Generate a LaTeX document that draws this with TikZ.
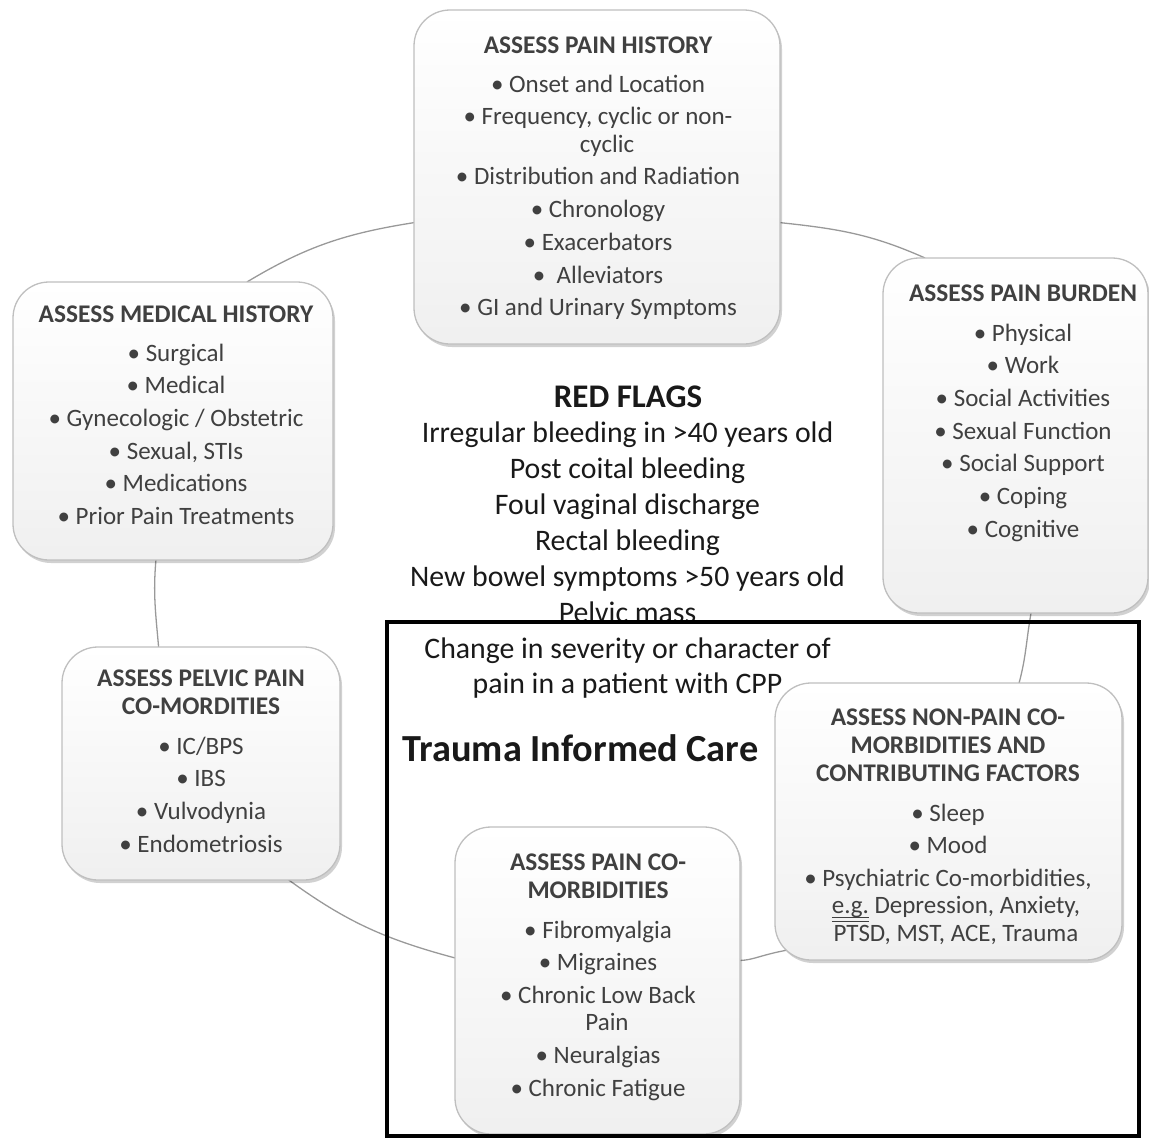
\documentclass[tikz,border=0pt]{standalone}
\usepackage{fontspec}
\setmainfont{Carlito}
\usetikzlibrary{shadows}
\pgfdeclarelayer{background}
\pgfsetlayers{background,main}

% double underline drawn with two thin rules
\newcommand\dblul[1]{\setbox0\hbox{#1}%
  \rlap{\rule[-4pt]{\wd0}{0.9pt}}\rlap{\rule[-7.5pt]{\wd0}{0.9pt}}\box0}

\begin{document}
\begin{tikzpicture}[x=1pt,y=-1pt,
  cbox/.style={draw=black!25, line width=1.3pt, rounded corners=36pt,
    top color=white, bottom color=black!6, inner sep=0pt, outer sep=0pt,
    anchor=north west,
    drop shadow={shadow xshift=2pt, shadow yshift=-3pt, opacity=0.18, fill=black}},
  btitle/.style={font=\bfseries\fontsize{25.4}{28}\selectfont, text=black!75,
    align=center, inner sep=0pt, anchor=north},
  bitems/.style={font=\fontsize{25}{27.5}\selectfont, text=black!75,
    align=center, inner sep=0pt, anchor=north},
  link/.style={draw=black!40, line width=1.3pt},
  rftitle/.style={font=\bfseries\fontsize{33}{36}\selectfont, text=black!90,
    inner sep=0pt, anchor=base},
  rflist/.style={font=\fontsize{29.8}{35.86}\selectfont, text=black!90,
    align=center, inner sep=0pt, anchor=north},
  bigtitle/.style={font=\bfseries\fontsize{38.3}{40}\selectfont, text=black!90,
    inner sep=0pt, anchor=base},
  frame/.style={draw=black, line width=4pt, inner sep=0pt, outer sep=0pt,
    anchor=north west}
]
\useasboundingbox (0,0) rectangle (1149,1138);

% assessment boxes
\node[cbox, minimum width=366pt, minimum height=334pt] (hist) at (414,10) {};
\node[cbox, minimum width=320pt, minimum height=278pt] (med) at (13,282) {};
\node[cbox, minimum width=265pt, minimum height=355pt] (burden) at (883,258) {};
\node[cbox, minimum width=278pt, minimum height=233pt] (pelv) at (62,647) {};
\node[cbox, minimum width=347pt, minimum height=277pt] (nonp) at (775,683) {};
\node[cbox, minimum width=285pt, minimum height=307pt] (comorb) at (455,827) {};

% ring of connectors behind the boxes
\begin{pgfonlayer}{background}
  \draw[link] (hist.194) to[out=189, in=31] (med.62);
  \draw[link] (hist.-14) to[out=-6, in=156] (burden.117);
  \draw[link] (med.-97) to[out=-95, in=95] (pelv.110);
  \draw[link] (burden.-85) to[out=-100, in=75] (nonp.63);
  \draw[link] (pelv.-53) to[out=-36, in=165] (comorb.171);
  \draw[link, shorten <=-14pt] (nonp.217) to[out=190, in=2] (comorb.8);
\end{pgfonlayer}

% box contents
\node[btitle] (histT) at (598,37) {ASSESS PAIN HISTORY};
\node[bitems] (histI) at (598,74.5) {• Onset and Location\\[5.2pt]
  • Frequency, cyclic or non-\\ \hspace*{18pt}cyclic\\[5.2pt]
  • Distribution and Radiation\\[5.2pt]
  • Chronology\\[5.2pt]
  • Exacerbators\\[5.2pt]
  •\ \ Alleviators\\[5.2pt]
  • GI and Urinary Symptoms};

\node[btitle] (medT) at (176,306) {ASSESS MEDICAL HISTORY};
\node[bitems] (medI) at (176,343.5) {• Surgical\\[5.2pt]
  • Medical\\[5.2pt]
  • Gynecologic / Obstetric\\[5.2pt]
  • Sexual, STIs\\[5.2pt]
  • Medications\\[5.2pt]
  • Prior Pain Treatments};

\node[btitle] (burdenT) at (1023,285) {ASSESS PAIN BURDEN};
\node[bitems] (burdenI) at (1023,323.5) {• Physical\\[5.2pt]
  • Work\\[5.2pt]
  • Social Activities\\[5.2pt]
  • Sexual Function\\[5.2pt]
  • Social Support\\[5.2pt]
  • Coping\\[5.2pt]
  • Cognitive};

\node[btitle] (pelvT) at (201,670) {ASSESS PELVIC PAIN\\ CO-MORDITIES};
\node[bitems] (pelvI) at (201,736.5) {• IC/BPS\\[5.2pt]
  • IBS\\[5.2pt]
  • Vulvodynia\\[5.2pt]
  • Endometriosis};

\node[btitle] (nonpT) at (948,709) {ASSESS NON-PAIN CO-\\ MORBIDITIES AND\\ CONTRIBUTING FACTORS};
\node[bitems] (nonpI) at (948,803.5) {• Sleep\\[5.2pt]
  • Mood\\[5.2pt]
  • Psychiatric Co-morbidities,\\
  \hspace*{16pt}\dblul{e.g.}\ Depression, Anxiety,\\
  \hspace*{16pt}PTSD, MST, ACE, Trauma};

\node[btitle] (comorbT) at (598,854) {ASSESS PAIN CO-\\ MORBIDITIES};
\node[bitems] (comorbI) at (598,920.5) {• Fibromyalgia\\[5.2pt]
  • Migraines\\[5.2pt]
  • Chronic Low Back\\ \hspace*{18pt}Pain\\[5.2pt]
  • Neuralgias\\[5.2pt]
  • Chronic Fatigue};

% centre text
\node[rftitle] (rf) at (628,407.5) {RED FLAGS};
\node[rflist] (rflist) at (627.5,422) {Irregular bleeding in >40 years old\\
  Post coital bleeding\\
  Foul vaginal discharge\\
  Rectal bleeding\\
  New bowel symptoms >50 years old\\
  Pelvic mass\\
  Change in severity or character of\\
  pain in a patient with CPP};
\node[bigtitle] (tic) at (580.5,761) {Trauma Informed Care};

% frame around the trauma informed care area
\node[frame, minimum width=752.5pt, minimum height=514pt] (tframe) at (386.5,621.5) {};
\end{tikzpicture}
\end{document}
